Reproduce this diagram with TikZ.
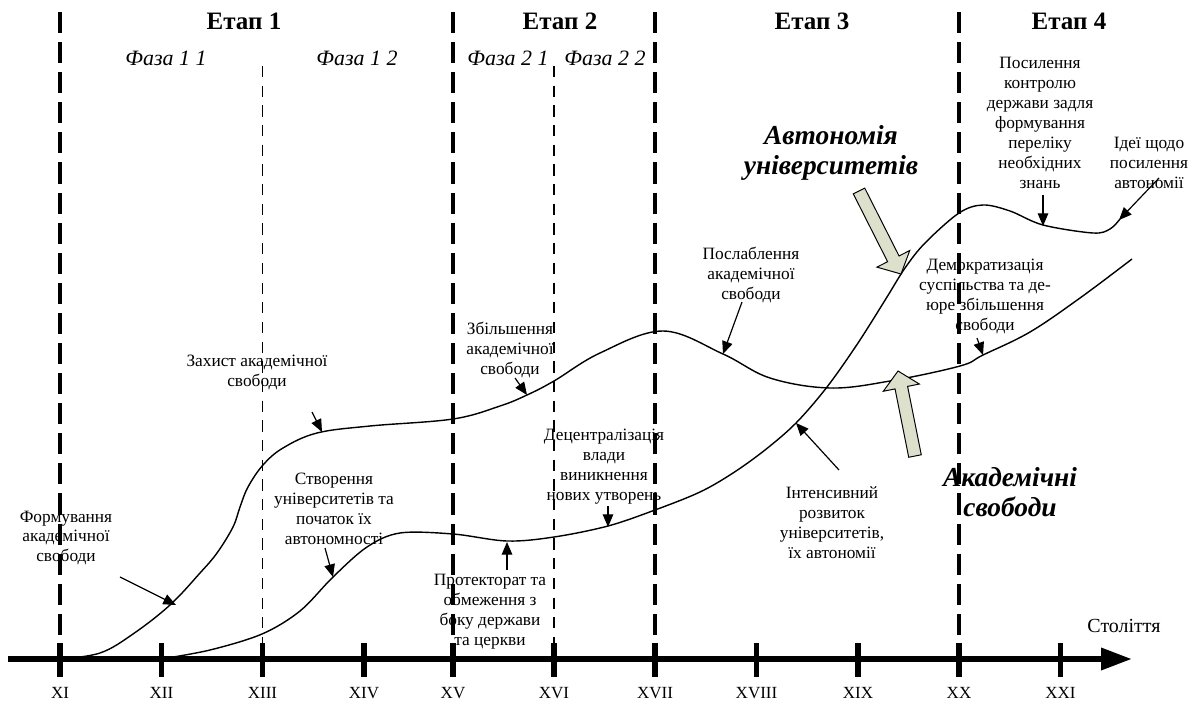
\documentclass[tikz,border=0pt]{standalone}
\usepackage{fontspec}
\setmainfont{Liberation Serif}
\usetikzlibrary{calc,arrows.meta}
\definecolor{BlockFill}{RGB}{221,225,204}
\tikzset{%
  note/.style={%
    font=\fontsize{12.3}{14.2}\selectfont, align=center, inner sep=0pt
  },
  stage/.style={font=\fontsize{17.8}{20}\selectfont\bfseries, inner sep=0pt},
  phase/.style={font=\fontsize{15.6}{17}\selectfont\itshape, inner sep=0pt},
  headline/.style={%
    font=\fontsize{19.5}{21.3}\selectfont\bfseries\itshape, align=center, inner sep=0pt
  },
  century/.style={font=\fontsize{12.1}{14}\selectfont, inner sep=0pt},
  stageline/.style={line width=2.2pt, dash pattern=on 15pt off 6.4pt},
  phaseline/.style={line width=0.85pt, dash pattern=on 8pt off 6pt},
  timeaxis/.style={line width=4.3pt, -{Triangle[length=22pt,width=15pt]}},
  tick/.style={line width=3.6pt},
  trend/.style={line width=1pt},
  pointer/.style={line width=0.85pt, -{Triangle[length=9pt,width=7.5pt]}},
  bigarrow/.style={draw=black, line width=0.7pt, fill=BlockFill},
}
% wide arrow from #1 (tail) to #2 (tip)
\newcommand{\blockarrow}[2]{%
  \coordinate (hb) at ($(#2)!0.425cm!(#1)$);
  \draw[bigarrow] ($(#1)!0.16cm!90:(#2)$) -- ($(hb)!0.16cm!90:(#2)$)
    -- ($(hb)!0.46cm!90:(#2)$) -- (#2) -- ($(hb)!0.46cm!-90:(#2)$)
    -- ($(hb)!0.16cm!-90:(#2)$) -- ($(#1)!0.16cm!-90:(#2)$) -- cycle;
}

\begin{document}
\begin{tikzpicture}[x=0.025cm, y=-0.025cm]
  \useasboundingbox (0,0) rectangle (1202,702);

  % stages and phases
  \foreach \x in {60,453,655,959}
    \draw[stageline] (\x,12) -- (\x,659);
  \foreach \x in {262.5,554}
    \draw[phaseline] (\x,66) -- (\x,659);

  \node (ETAP1)[stage] at (244,21) {Етап 1};
  \node (ETAP2)[stage] at (560,21) {Етап 2};
  \node (ETAP3)[stage] at (812,21) {Етап 3};
  \node (ETAP4)[stage] at (1069,21) {Етап 4};
  \node (FAZA11)[phase] at (166,58) {Фаза 1 1};
  \node (FAZA12)[phase] at (357,58) {Фаза 1 2};
  \node (FAZA21)[phase] at (508,58) {Фаза 2 1};
  \node (FAZA22)[phase] at (605,58) {Фаза 2 2};

  % time axis
  \coordinate (AXISSTART) at (8,659);
  \coordinate (AXISEND) at (1132,659);
  \draw[timeaxis] (AXISSTART) -- (AXISEND);
  \foreach \x/\c in {60/XI,161.5/XII,262.5/XIII,364/XIV,453/XV,554/XVI,
                     655/XVII,756.5/XVIII,858/XIX,959/XX,1060.5/XXI} {
    \draw[tick] (\x,643) -- (\x,677);
    \node (C\c)[century] at (\x,693) {\c};
  }
  \node (CENTURY)[font=\fontsize{14.2}{16}\selectfont, inner sep=0pt] at (1124,626) {Століття};

  % academic freedom
  \draw[trend] plot[smooth, tension=0.6] coordinates {
    (60,659) (100,653) (133,634) (170,605) (200,573) (217,553) (233,527)
    (240,507) (248,487) (263,465) (283,448) (317,433) (370,426) (453,419)
    (500,406) (527,395) (554,381) (600,353) (663,331) (723,354) (770,378)
    (830,388) (890,381) (960,366) (983,355) (1030,332) (1080,298) (1132,259)};
  % autonomy of universities
  \draw[trend] plot[smooth, tension=0.55] coordinates {
    (161,659) (210,650) (262,634) (300,611) (333,577) (367,547) (400,533)
    (453,534) (507,541) (554,537) (608,526) (655,510) (700,492) (733,473)
    (765,450) (796,423) (827,387) (858,343) (887,297) (905,268) (925,243)
    (959,213) (983,205) (1010,211) (1043,225) (1093,233) (1110,229) (1120,219)};

  \node (FORM)[note] at (66,538) {Формування\\академічної\\свободи};
  \node (ZAKHYST)[note] at (257,372) {Захист академічної\\свободи};
  \node (STVOR)[note] at (334,509) {Створення\\університетів та\\початок їх\\автономності};
  \node (ZBILSH)[note] at (510,350) {Збільшення\\академічної\\свободи};
  \node (PROTEKT)[note] at (490,612) {Протекторат та\\обмеження з\\боку держави\\та церкви};
  \node (DECENTR)[note] at (604,467) {Децентралізація\\влади\\виникнення\\нових утворень};
  \node (POSLAB)[note] at (751,275) {Послаблення\\академічної\\свободи};
  \node (INTENS)[note] at (832,523) {Інтенсивний\\розвиток\\університетів,\\їх автономії};
  \node (DEMOKR)[note] at (985,296) {Демократизація\\суспільства та де-\\юре збільшення\\свободи};
  \node (POSYL)[note] at (1040,123) {Посилення\\контролю\\держави задля\\формування\\переліку\\необхідних\\знань};
  \node (IDEI)[note] at (1149,163) {Ідеї щодо\\посилення\\автономії};

  \node (AVTONOMIA)[headline] at (831,153) {Автономія\\університетів};
  \node (AKADEM)[headline] at (1010,492) {Академічні\\свободи};

  % pointers
  \coordinate (form-from) at (120,577);    \coordinate (form-to) at (176,605);
  \coordinate (zakhyst-from) at (312,412); \coordinate (zakhyst-to) at (322,432);
  \coordinate (stvor-from) at (325,548);   \coordinate (stvor-to) at (333,577);
  \coordinate (zbilsh-from) at (515,378);  \coordinate (zbilsh-to) at (527,395);
  \coordinate (protekt-from) at (507,570); \coordinate (protekt-to) at (507,542);
  \coordinate (decentr-from) at (608,506); \coordinate (decentr-to) at (608,527);
  \coordinate (poslab-from) at (742,302);  \coordinate (poslab-to) at (723,354);
  \coordinate (intens-from) at (839,470);  \coordinate (intens-to) at (796,423);
  \coordinate (demokr-from) at (977,338);  \coordinate (demokr-to) at (983,355);
  \coordinate (posyl-from) at (1043,195);  \coordinate (posyl-to) at (1043,226);
  \coordinate (idei-from) at (1159,178);   \coordinate (idei-to) at (1119,220);
  \foreach \p in {form,zakhyst,stvor,zbilsh,protekt,decentr,poslab,intens,demokr,posyl,idei}
    \draw[pointer] (\p-from) -- (\p-to);

  % wide arrows
  \coordinate (autonomy-tail) at (859,191);
  \coordinate (autonomy-tip) at (901,274);
  \coordinate (freedom-tail) at (915,456);
  \coordinate (freedom-tip) at (898,371);
  \blockarrow{autonomy-tail}{autonomy-tip}
  \blockarrow{freedom-tail}{freedom-tip}
\end{tikzpicture}
\end{document}
